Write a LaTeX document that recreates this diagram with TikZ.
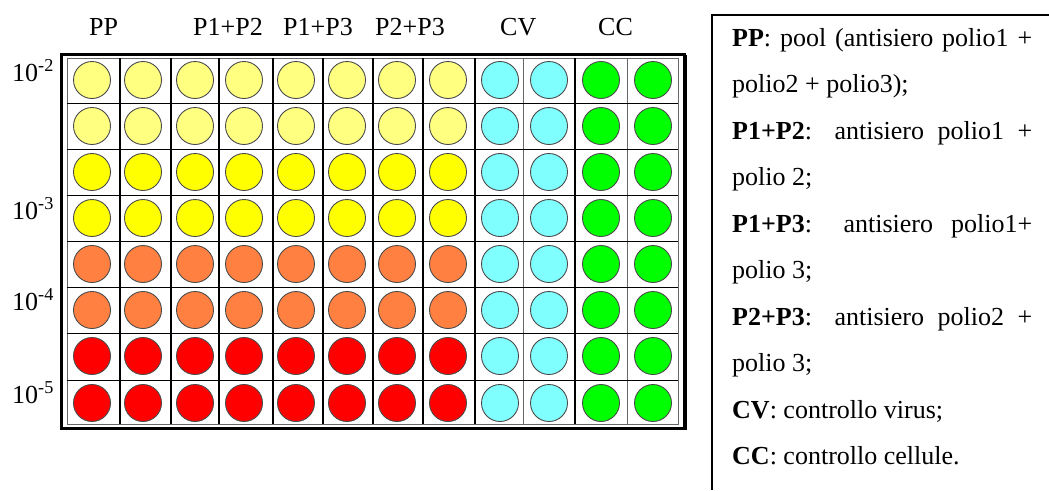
\documentclass[tikz,border=0pt]{standalone}
\usepackage{fontspec}
\setmainfont{Liberation Serif}
\definecolor{pyel}{RGB}{255,255,128}
\definecolor{yel}{RGB}{255,255,0}
\definecolor{org}{RGB}{255,128,64}
\definecolor{rd}{RGB}{255,0,0}
\definecolor{cvc}{RGB}{128,255,255}
\definecolor{ccc}{RGB}{0,255,0}
\begin{document}
\begin{tikzpicture}[x=1pt,y=-1pt,
  txt/.style={inner sep=0pt, anchor=base west, font=\fontsize{26}{30}\selectfont},
  well/.style={circle, draw=black!70, line width=0.9pt, minimum size=37pt, inner sep=0pt},
  thinsep/.style={draw=black!60, line width=0.8pt},
  thicksep/.style={draw=black, line width=2.6pt},
  rowsep/.style={draw=black, line width=0.9pt},
  frame/.style={draw=black, line width=3pt},
  legline/.style={draw=black, line width=2pt}]
\useasboundingbox (0,0) rectangle (1049,490);
\fill[white] (0,0) rectangle (1049,490);

% plate grid
\draw[thinsep] (67,58) rectangle (678,424);
\foreach \x in {523,627} \draw[thinsep] (\x,58) -- (\x,424);
\foreach \y in {103,149,195,241,287,333,380} \draw[rowsep] (67,\y) -- (678,\y);
\foreach \x in {120,171,219,273,323,373,423,475,575} \draw[thicksep] (\x,58) -- (\x,424);

% plate frame
\draw[frame] (61,54.5) rectangle (684.5,428);
\draw[line width=1.5pt] (686.5,55) -- (686.5,429.5) -- (61,429.5);

% wells
\foreach \c/\cx in {1/92,2/143,3/195,4/244,5/296,6/347,7/397,8/448} {
  \foreach \r/\cy/\wc in {1/80/pyel,2/126/pyel,3/172/yel,4/218/yel,5/264/org,6/310/org,7/356/rd,8/403/rd}
    \node[well, fill=\wc] (w\r-\c) at (\cx,\cy) {};
}
\foreach \c/\cx/\wc in {9/500/cvc,10/549/cvc,11/601/ccc,12/653/ccc} {
  \foreach \r/\cy in {1/80,2/126,3/172,4/218,5/264,6/310,7/356,8/403}
    \node[well, fill=\wc] (w\r-\c) at (\cx,\cy) {};
}

% column labels
\node[txt] (lPP) at (89,35) {PP};
\node[txt] (lP12) at (193,35) {P1+P2};
\node[txt] (lP13) at (283,35) {P1+P3};
\node[txt] (lP23) at (375,35) {P2+P3};
\node[txt] (lCV) at (500,35) {CV};
\node[txt] (lCC) at (598,35) {CC};

% row labels
\node[txt] (d2) at (12,81) {10\textsuperscript{-2}};
\node[txt] (d3) at (12,219) {10\textsuperscript{-3}};
\node[txt] (d4) at (12,310) {10\textsuperscript{-4}};
\node[txt] (d5) at (12,403) {10\textsuperscript{-5}};

% legend box
\coordinate (lgtr) at (1049,15);
\coordinate (lgtl) at (712,15);
\coordinate (lgbl) at (712,490);
\draw[legline] (lgtr) -- (lgtl) -- (lgbl);

% legend text
\node[txt] (g1) at (732,46) {\makebox[300pt][s]{\textbf{PP}: pool (antisiero polio1 +}};
\node[txt] (g2) at (732,92.5) {polio2 + polio3);};
\node[txt] (g3) at (732,139) {\makebox[300pt][s]{\textbf{P1+P2}: antisiero polio1 +}};
\node[txt] (g4) at (732,185.5) {polio 2;};
\node[txt] (g5) at (732,232) {\makebox[300pt][s]{\textbf{P1+P3}: antisiero polio1+}};
\node[txt] (g6) at (732,278.5) {polio 3;};
\node[txt] (g7) at (732,325) {\makebox[300pt][s]{\textbf{P2+P3}: antisiero polio2 +}};
\node[txt] (g8) at (732,371.5) {polio 3;};
\node[txt] (g9) at (732,418) {\textbf{CV}: controllo virus;};
\node[txt] (g10) at (732,464.5) {\textbf{CC}: controllo cellule.};
\end{tikzpicture}
\end{document}
